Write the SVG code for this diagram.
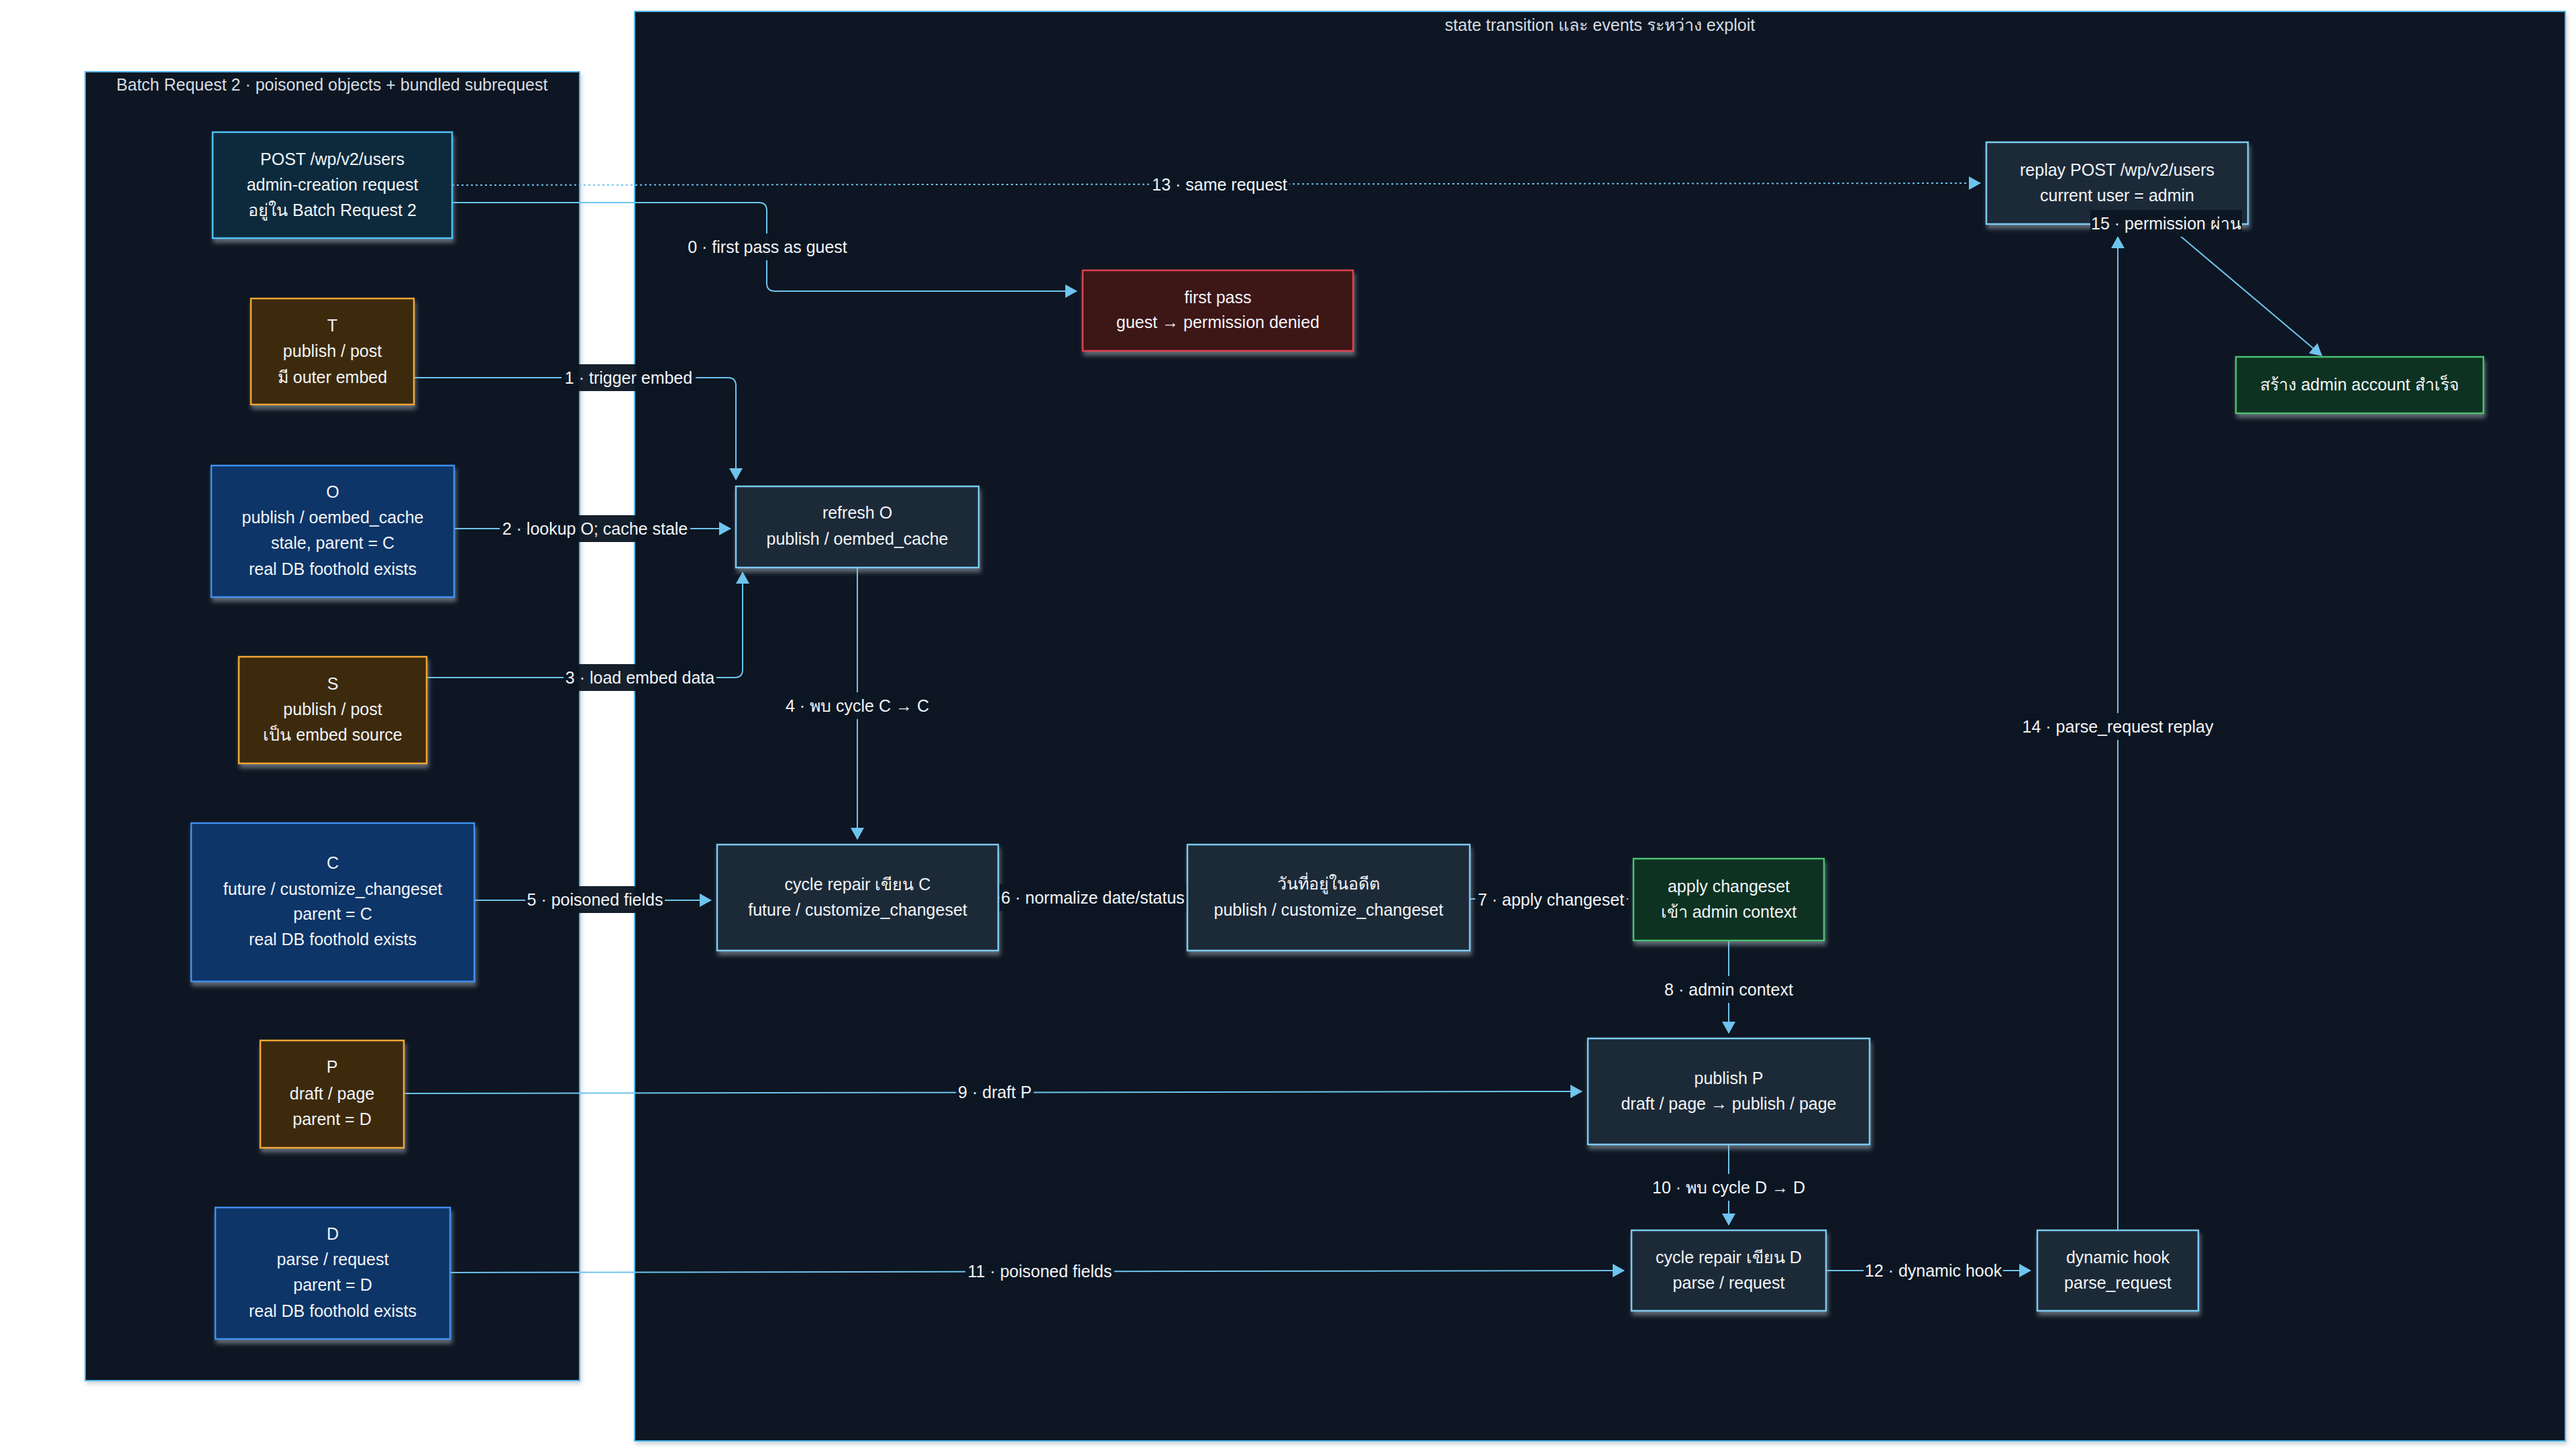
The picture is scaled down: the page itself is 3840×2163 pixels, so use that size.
<svg xmlns="http://www.w3.org/2000/svg" width="3840" height="2163" viewBox="0 0 3840 2163">
<defs>
<style>
text{font-family:"Liberation Sans","DejaVu Sans","Noto Sans",sans-serif;font-size:25px;fill:#f2f4f7;text-anchor:middle}
.ttl{fill:#d6dde4}
.cl{fill:#0b1622;stroke:#4fb6ec;stroke-width:2}
.n{stroke-width:2.5;filter:url(#sh)}
.neu{fill:#1f2a37;stroke:#7ccaf2}
.blu{fill:#0c3667;stroke:#3f8fef}
.brn{fill:#3d2a0d;stroke:#f0a830}
.teal{fill:#0d2a3e;stroke:#4fc3f7}
.red{fill:#3e1218;stroke:#e0404e}
.grn{fill:#0f3320;stroke:#4cc070}
.e{fill:none;stroke:#6ec4ee;stroke-width:2;marker-end:url(#ah)}
.dot{stroke-dasharray:3 4}
.lb{fill:#0c1723;opacity:0.96}
</style>
<marker id="ah" markerUnits="userSpaceOnUse" markerWidth="18" markerHeight="20" refX="17" refY="10" orient="auto">
<path d="M0,0 L18,10 L0,20 z" fill="#6ec4ee"/>
</marker>
<filter id="sh" x="-10%" y="-10%" width="120%" height="130%">
<feDropShadow dx="2" dy="6" stdDeviation="3" flood-color="#a0aab5" flood-opacity="0.55"/>
</filter>
<filter id="csh" x="-5%" y="-5%" width="110%" height="110%">
<feDropShadow dx="2" dy="4" stdDeviation="3" flood-color="#8090a0" flood-opacity="0.4"/>
</filter>
</defs>
<rect width="3840" height="2163" fill="#ffffff"/>

<g id="cluster-batch">
<rect class="cl" x="127" y="107" width="737" height="1951" filter="url(#csh)"/>
<text class="ttl" x="495" y="135">Batch Request 2 · poisoned objects + bundled subrequest</text>
</g>
<g id="cluster-state">
<rect class="cl" x="946" y="17" width="2878" height="2131" filter="url(#csh)"/>
<text class="ttl" x="2385" y="46">state transition และ events ระหว่าง exploit</text>
</g>

<g id="edges">
<path class="e" d="M674,302 H1131 Q1143,302 1143,314 V422 Q1143,434 1155,434 H1605"/>
<path class="e dot" d="M674,276 L2952,273"/>
<path class="e" d="M617,563 H1085 Q1097,563 1097,575 V715"/>
<path class="e" d="M677,788 H1089"/>
<path class="e" d="M636,1010 H1095 Q1107,1010 1107,998 V853"/>
<path class="e" d="M1278,846 V1251"/>
<path class="e" d="M707,1342 H1060"/>
<path class="e" d="M1488,1338 H1761"/>
<path class="e" d="M2191,1340 H2427"/>
<path class="e" d="M2577,1402 V1540"/>
<path class="e" d="M602,1630 L2358,1627"/>
<path class="e" d="M2577,1706 V1826"/>
<path class="e" d="M671,1897 L2421,1894"/>
<path class="e" d="M2722,1894 H3027"/>
<path class="e" d="M3157,1834 V353"/>
<path class="e" d="M3229,334 L3461,530"/>
</g>

<g id="node-post"><rect class="n teal" x="317" y="197" width="357" height="158"/>
<text x="495.5" y="246">POST /wp/v2/users</text><text x="495.5" y="284">admin-creation request</text><text x="495.5" y="322">อยู่ใน Batch Request 2</text></g>
<g id="node-T"><rect class="n brn" x="374" y="445" width="243" height="158"/>
<text x="495.5" y="494">T</text><text x="495.5" y="532">publish / post</text><text x="495.5" y="571">มี outer embed</text></g>
<g id="node-O"><rect class="n blu" x="315" y="694" width="362" height="196"/>
<text x="496" y="742">O</text><text x="496" y="780">publish / oembed_cache</text><text x="496" y="818">stale, parent = C</text><text x="496" y="857">real DB foothold exists</text></g>
<g id="node-S"><rect class="n brn" x="356" y="979" width="280" height="159"/>
<text x="496" y="1028">S</text><text x="496" y="1066">publish / post</text><text x="496" y="1104">เป็น embed source</text></g>
<g id="node-C"><rect class="n blu" x="285" y="1227" width="422" height="236"/>
<text x="496" y="1295">C</text><text x="496" y="1334">future / customize_changeset</text><text x="496" y="1371">parent = C</text><text x="496" y="1409">real DB foothold exists</text></g>
<g id="node-P"><rect class="n brn" x="388" y="1551" width="214" height="160"/>
<text x="495" y="1599">P</text><text x="495" y="1639">draft / page</text><text x="495" y="1677">parent = D</text></g>
<g id="node-D"><rect class="n blu" x="321" y="1800" width="350" height="196"/>
<text x="496" y="1848">D</text><text x="496" y="1886">parse / request</text><text x="496" y="1924">parent = D</text><text x="496" y="1963">real DB foothold exists</text></g>

<g id="node-firstpass"><rect class="n red" x="1614" y="403" width="403" height="120"/>
<text x="1815.5" y="452">first pass</text><text x="1815.5" y="489">guest → permission denied</text></g>
<g id="node-replay"><rect class="n neu" x="2961" y="212" width="390" height="122"/>
<text x="3156" y="262">replay POST /wp/v2/users</text><text x="3156" y="300">current user = admin</text></g>
<g id="node-admin"><rect class="n grn" x="3333" y="532" width="369" height="84"/>
<text x="3517.5" y="582">สร้าง admin account สำเร็จ</text></g>
<g id="node-refresh"><rect class="n neu" x="1097" y="725" width="362" height="121"/>
<text x="1278" y="773">refresh O</text><text x="1278" y="812">publish / oembed_cache</text></g>
<g id="node-repairC"><rect class="n neu" x="1069" y="1259" width="419" height="158"/>
<text x="1278.5" y="1327">cycle repair เขียน C</text><text x="1278.5" y="1365">future / customize_changeset</text></g>
<g id="node-past"><rect class="n neu" x="1770" y="1259" width="421" height="158"/>
<text x="1980.5" y="1326">วันที่อยู่ในอดีต</text><text x="1980.5" y="1365">publish / customize_changeset</text></g>
<g id="node-apply"><rect class="n grn" x="2435" y="1280" width="284" height="122"/>
<text x="2577" y="1330">apply changeset</text><text x="2577" y="1368">เข้า admin context</text></g>
<g id="node-publishP"><rect class="n neu" x="2367" y="1548" width="420" height="158"/>
<text x="2577" y="1616">publish P</text><text x="2577" y="1654">draft / page → publish / page</text></g>
<g id="node-repairD"><rect class="n neu" x="2432" y="1834" width="290" height="120"/>
<text x="2577" y="1883">cycle repair เขียน D</text><text x="2577" y="1921">parse / request</text></g>
<g id="node-hook"><rect class="n neu" x="3037" y="1834" width="240" height="120"/>
<text x="3157" y="1883">dynamic hook</text><text x="3157" y="1921">parse_request</text></g>

<g id="edge-labels">
<rect class="lb" x="1022" y="348" width="244" height="40"/><text x="1144" y="377">0 · first pass as guest</text>
<rect class="lb" x="1714" y="255" width="208" height="40"/><text x="1818" y="284">13 · same request</text>
<rect class="lb" x="837" y="543" width="200" height="40"/><text x="937" y="572">1 · trigger embed</text>
<rect class="lb" x="745" y="768" width="284" height="40"/><text x="887" y="797">2 · lookup O; cache stale</text>
<rect class="lb" x="840" y="990" width="228" height="40"/><text x="954" y="1019">3 · load embed data</text>
<rect class="lb" x="1166" y="1032" width="224" height="40"/><text x="1278" y="1061">4 · พบ cycle C → C</text>
<rect class="lb" x="783" y="1321" width="208" height="40"/><text x="887" y="1350">5 · poisoned fields</text>
<rect class="lb" x="1490" y="1318" width="278" height="40"/><text x="1629" y="1347">6 · normalize date/status</text>
<rect class="lb" x="2199" y="1321" width="226" height="40"/><text x="2312" y="1350">7 · apply changeset</text>
<rect class="lb" x="2479" y="1455" width="196" height="40"/><text x="2577" y="1484">8 · admin context</text>
<rect class="lb" x="1425" y="1608" width="116" height="40"/><text x="1483" y="1637">9 · draft P</text>
<rect class="lb" x="2459" y="1750" width="236" height="40"/><text x="2577" y="1779">10 · พบ cycle D → D</text>
<rect class="lb" x="1439" y="1875" width="222" height="40"/><text x="1550" y="1904">11 · poisoned fields</text>
<rect class="lb" x="2778" y="1874" width="208" height="40"/><text x="2882" y="1903">12 · dynamic hook</text>
<rect class="lb" x="3011" y="1063" width="292" height="40"/><text x="3157" y="1092">14 · parse_request replay</text>
<rect class="lb" x="3116" y="313" width="226" height="40"/><text x="3229" y="342">15 · permission ผ่าน</text>
</g>
</svg>
